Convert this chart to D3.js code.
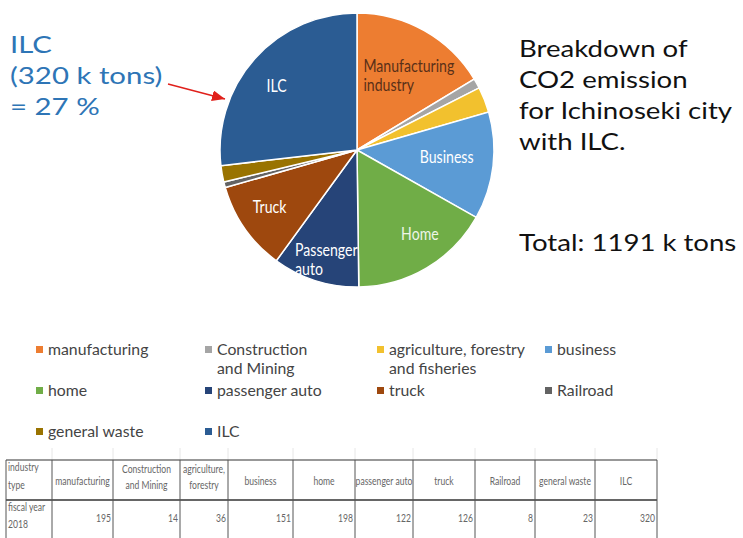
<!DOCTYPE html>
<html lang="en">
  <head>
    <meta charset="UTF-8" />
    <title>CO2 emission Ichinoseki</title>
    <script src="https://d3js.org/d3.v7.min.js"></script>
    <style>
      body { margin: 0; background: #fff; }
      text { font-family: Lato, "Open Sans", sans-serif; }
    </style>
  </head>
  <body>
    <script>
      // data
      var categories = ["manufacturing", "Construction and Mining", "agriculture, forestry and fisheries",
        "business", "home", "passenger auto", "truck", "Railroad", "general waste", "ILC"];
      var values = [195, 14, 36, 151, 198, 122, 126, 8, 23, 320];
      var colors = ["#ED7D31", "#A5A5A5", "#F2C12E", "#5B9BD5", "#70AD47", "#264478",
        "#9E480E", "#636363", "#997300", "#2B5C93"];
      var sliceLabels = [["Manufacturing", "industry"], [], [], ["Business"], ["Home"],
        ["Passenger", "auto"], ["Truck"], [], [], ["ILC"]];
      var legendLines = [["manufacturing"], ["Construction", "and Mining"], ["agriculture, forestry", "and fisheries"],
        ["business"], ["home"], ["passenger auto"], ["truck"], ["Railroad"], ["general waste"], ["ILC"]];
      var tableHeaders = [["industry", "type"], ["manufacturing"], ["Construction", "and Mining"], ["agriculture,", "forestry"],
        ["business"], ["home"], ["passenger auto"], ["truck"], ["Railroad"], ["general waste"], ["ILC"]];
      var rowHead = ["fiscal year", "2018"];

      var W = 743, H = 538;
      var svg = d3.select("body").append("svg").attr("width", W).attr("height", H);

      // pie
      var cx = 357, cy = 150, R = 137;
      var pie = d3.pie().sort(null).value(function (d) { return d; });
      var arc = d3.arc().innerRadius(0).outerRadius(R);
      var arcs = pie(values);
      var g = svg.append("g").attr("transform", "translate(" + cx + "," + cy + ")");
      g.selectAll("path").data(arcs).enter().append("path")
        .attr("d", arc)
        .attr("fill", function (d, i) { return colors[i]; })
        .attr("stroke", "#fff")
        .attr("stroke-width", 1.5);

      // slice labels: centroid + nudge, multi-line ones left aligned
      var labelArc = d3.arc().innerRadius(R * 0.6).outerRadius(R * 0.6);
      var labelOffsets = [[-34, -2], [0, 0], [0, 0], [8, -1.5], [21, 14], [-37, 32], [-20, 11], [0, 0], [0, 0], [-19, -8]];
      arcs.forEach(function (d, i) {
        var lines = sliceLabels[i];
        if (!lines.length) return;
        var c = labelArc.centroid(d);
        var t = g.append("text")
          .attr("text-anchor", lines.length > 1 ? "start" : "middle")
          .attr("font-size", 17)
          .attr("fill", i === 0 ? "#5a3018" : (i === 4 ? "#eef5e8" : "#fff"))
          .attr("transform", "translate(" + (c[0] + labelOffsets[i][0]) + "," + (c[1] + labelOffsets[i][1]) + ") scale(0.83,1)");
        lines.forEach(function (l, k) {
          t.append("tspan").attr("x", 0)
            .attr("y", (k - (lines.length - 1) / 2) * 19.5 + 5)
            .text(l);
        });
      });

      // left annotation
      var ann = svg.append("text").attr("fill", "#2E75B6").attr("font-size", 23.5)
        .attr("transform", "translate(10,0) scale(1.25,1)");
      ["ILC", "(320 k tons)", "= 27 %"].forEach(function (l, k) {
        ann.append("tspan").attr("x", 0).attr("y", 53 + k * 31).text(l);
      });
      svg.append("defs").append("marker")
        .attr("id", "head").attr("viewBox", "0 0 12 10")
        .attr("refX", 12).attr("refY", 5)
        .attr("markerUnits", "userSpaceOnUse")
        .attr("markerWidth", 13).attr("markerHeight", 11)
        .attr("orient", "auto")
        .append("path").attr("d", "M0,0L12,5L0,10z").attr("fill", "#E0201B");
      svg.append("line")
        .attr("x1", 168).attr("y1", 84).attr("x2", 225).attr("y2", 99)
        .attr("stroke", "#E0201B").attr("stroke-width", 1.5)
        .attr("marker-end", "url(#head)");

      // right title
      var ttl = svg.append("g").attr("transform", "translate(519,0) scale(1.2,1)")
        .attr("font-size", 23).attr("fill", "#111");
      var tt = ttl.append("text");
      ["Breakdown of", "CO2 emission", "for Ichinoseki city", "with ILC."].forEach(function (l, k) {
        tt.append("tspan").attr("x", 0).attr("y", 57 + k * 31).text(l);
      });
      ttl.append("text").attr("x", 0).attr("y", 251).text("Total: 1191 k tons");

      // legend
      var legX = [36, 205, 377, 545], legY = [349, 390, 431];
      var leg = svg.selectAll(".leg").data(categories).enter().append("g")
        .attr("class", "leg")
        .attr("transform", function (d, i) {
          return "translate(" + legX[i % 4] + "," + legY[Math.floor(i / 4)] + ")";
        });
      leg.append("rect").attr("x", 0).attr("y", -3).attr("width", 7).attr("height", 7)
        .attr("fill", function (d, i) { return colors[i]; });
      leg.append("text").attr("x", 12).attr("font-size", 15.8).attr("fill", "#444")
        .each(function (d, i) {
          var t = d3.select(this);
          legendLines[i].forEach(function (l, k) {
            t.append("tspan").attr("x", 12).attr("y", 6 + k * 19).text(l);
          });
        });

      // table
      var colEdges = [6, 52, 113, 180, 228, 293, 355, 413, 475, 535, 595, 657];
      var rowEdges = [460, 500, 540];
      [52].concat(colEdges.slice(2)).forEach(function (x) {
        svg.append("line").attr("x1", x).attr("x2", x).attr("y1", 448).attr("y2", 460)
          .attr("stroke", "#e6e6e6");
      });
      rowEdges.forEach(function (y, k) {
        svg.append("line").attr("x1", colEdges[0]).attr("x2", colEdges[colEdges.length - 1])
          .attr("y1", y).attr("y2", y).attr("stroke", "#333").attr("stroke-width", k === 1 ? 1.6 : 1.2);
      });
      colEdges.forEach(function (x) {
        svg.append("line").attr("x1", x).attr("x2", x).attr("y1", rowEdges[0]).attr("y2", rowEdges[2])
          .attr("stroke", "#555").attr("stroke-width", 1);
      });
      var tbl = svg.append("g").attr("font-size", 11).attr("fill", "#666")
        .style("font-family", "'Liberation Sans', Arial, sans-serif");
      // condensed text: position then squeeze horizontally
      function cell(x, y, anchor, lines, dy) {
        var t = tbl.append("text")
          .attr("text-anchor", anchor)
          .attr("transform", "translate(" + x + "," + y + ") scale(0.78,1)");
        lines.forEach(function (l, k) {
          t.append("tspan").attr("x", 0).attr("y", k * dy).text(l);
        });
      }
      tableHeaders.forEach(function (h, i) {
        var x0 = colEdges[i], x1 = colEdges[i + 1];
        if (i === 0) cell(x0 + 2, 471, "start", h, 18);
        else cell((x0 + x1) / 2, h.length > 1 ? 473 : 485, "middle", h, 16);
      });
      cell(8, 511, "start", rowHead, 17);
      values.forEach(function (v, i) {
        cell(colEdges[i + 2] - 2, 522, "end", [v], 0);
      });
    </script>
  </body>
</html>
